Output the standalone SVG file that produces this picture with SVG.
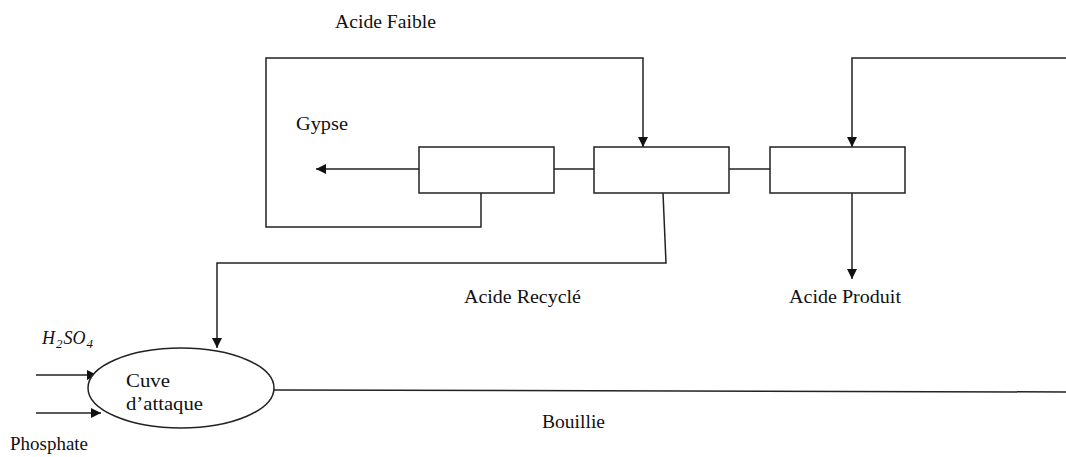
<svg xmlns="http://www.w3.org/2000/svg" width="1066" height="457" viewBox="0 0 1066 457">
<style>
.ln{fill:none;stroke:#222;stroke-width:1.5}
.bx{fill:#fff;stroke:#222;stroke-width:1.5}
.t{font-family:"Liberation Serif","Times New Roman",serif;font-size:18px;fill:#111}
</style>
<defs>
<marker id="ah" viewBox="0 0 10 10" refX="10" refY="5" markerWidth="10" markerHeight="10" markerUnits="userSpaceOnUse" orient="auto">
<path d="M0,0 L10,5 L0,10 z" fill="#111"/>
</marker>
</defs>
<rect width="1066" height="457" fill="#fff"/>
<g id="connectors">
<path class="ln" d="M481,193 V227 H266 V58 H643 V147" marker-end="url(#ah)"/>
<path class="ln" d="M1066,58 H852 V147" marker-end="url(#ah)"/>
<path class="ln" d="M419,169 H316" marker-end="url(#ah)"/>
<path class="ln" d="M554,169 H594"/>
<path class="ln" d="M729,169 H770"/>
<path class="ln" d="M852,193 V279" marker-end="url(#ah)"/>
<path class="ln" d="M663,193 L666,263 H217 V348" marker-end="url(#ah)"/>
<path class="ln" d="M36,375 H97" marker-end="url(#ah)"/>
<path class="ln" d="M36,413 H101" marker-end="url(#ah)"/>
<path class="ln" d="M274,390 L1066,392"/>
</g>
<g id="box1"><rect class="bx" x="419" y="147" width="135" height="46"/></g>
<g id="box2"><rect class="bx" x="594" y="147" width="135" height="46"/></g>
<g id="box3"><rect class="bx" x="770" y="147" width="135" height="46"/></g>
<g id="cuve">
<ellipse class="bx" cx="181" cy="388" rx="93" ry="40"/>
<text class="t" x="126" y="387" textLength="44" lengthAdjust="spacingAndGlyphs">Cuve</text>
<text class="t" x="126" y="410" textLength="77" lengthAdjust="spacingAndGlyphs">d’attaque</text>
</g>
<g id="labels">
<text class="t" x="335" y="28" textLength="101" lengthAdjust="spacingAndGlyphs">Acide Faible</text>
<text class="t" x="296" y="130" textLength="52" lengthAdjust="spacingAndGlyphs">Gypse</text>
<text class="t" x="464" y="303" textLength="117" lengthAdjust="spacingAndGlyphs">Acide Recyclé</text>
<text class="t" x="789" y="303" textLength="112" lengthAdjust="spacingAndGlyphs">Acide Produit</text>
<text class="t" x="542" y="428" textLength="63" lengthAdjust="spacingAndGlyphs">Bouillie</text>
<text class="t" x="10" y="450" textLength="78" lengthAdjust="spacingAndGlyphs">Phosphate</text>
<text class="t" x="42" y="344" font-style="italic" font-size="18">H<tspan font-size="13" dy="4" dx="1">2</tspan><tspan dy="-4" dx="1">SO</tspan><tspan font-size="13" dy="4" dx="1">4</tspan></text>
</g>
</svg>
